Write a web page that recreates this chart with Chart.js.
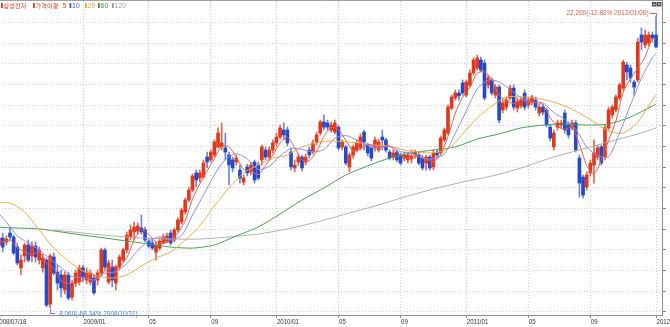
<!DOCTYPE html>
<html>
<head>
<meta charset="utf-8">
<script src="https://cdn.jsdelivr.net/npm/chart.js@4.4.1/dist/chart.umd.min.js"></script>
<style>
  html, body { margin: 0; padding: 0; background: #fff; overflow: hidden; }
  #frame { position: relative; width: 670px; height: 327px; overflow: hidden; background: #fff; }
  #wrap { position: absolute; left: -40px; top: 0; width: 740px; height: 327px; }
</style>
</head>
<body>
<div id="frame"><div id="wrap"><canvas id="c" width="740" height="327"></canvas></div></div>
<script>
// Weekly candles, 2008/07/18 .. 2012/01/06 (week index 0 .. 181)
const xTickWeeks  = [0, 24, 42, 59, 77, 94, 111, 129, 146, 163, 181];
const xTickLabels = ['2008/07/18', '2009/01', '05', '09', '2010/01', '05', '09', '2011/01', '05', '09', '2012/01'];

const opens = [11740,11110,11450,11260,11690,11500,11010,10000,10580,11110,10580,11060,10380,10000,10380,8250,10530,9800,9660,8930,
  9660,8590,9270,9320,10000,9410,9320,9510,9410,9750,10870,9320,10040,9270,10040,10380,10870,11500,11740,11790,
  11930,11840,11300,11210,10770,10960,11210,11300,11690,11350,11840,12220,12710,13290,13770,14600,14350,14400,15370,15230,
  15470,15860,15860,15810,15470,15230,15130,14740,14160,14890,14650,15130,14980,15230,15710,15370,15710,16050,16340,16680,
  16680,15610,14840,15130,15370,15130,15710,15610,16100,16530,17070,17020,16680,16580,16820,15860,15860,14890,15470,15710,
  15810,16580,15950,15810,15810,15710,16340,16200,15610,15370,15610,15470,15320,15230,15280,15470,15470,15320,15080,15370,
  14890,15610,15570,16200,16530,17740,18230,18470,18960,18370,18860,19440,19680,20070,19920,18860,19100,18370,18760,17650,
  17790,18230,18710,17740,17840,18470,17890,18040,18130,17500,17790,17650,16820,15860,16820,16920,17500,16920,16780,17020,
  15320,14400,13920,14600,14980,15370,15860,15370,16780,17410,17650,18230,18710,19830,19680,19000,19100,21280,20800,20890,
  21280,21280];
const highs = [11890,11590,11690,11550,11930,11590,11210,10630,11210,11350,11260,11260,11010,10670,10480,10670,10720,10140,9900,9800,
  9800,9410,9900,10140,10140,10000,9900,9660,9900,10960,10960,10380,10380,10140,10630,10960,11740,12080,12220,12180,
  12560,11980,11450,11350,11260,11450,11640,11690,11840,11930,12420,12900,13390,13920,14550,14740,14740,15230,15610,15710,
  16200,16780,17020,16530,15610,15370,15470,14980,14500,15030,15130,15230,15130,15950,15860,15860,16200,16530,16920,17020,
  16820,15810,15230,15520,15470,15520,15860,16200,16580,17160,17410,17160,17070,17160,16920,16200,15950,15570,15950,16200,
  16490,16680,16050,15900,16340,16240,16680,16290,15710,15710,15710,15570,15610,15610,15710,15710,15610,15470,15470,15470,
  15710,15710,16390,16780,17890,18370,18620,18620,19100,19100,19590,20170,20310,20210,20070,19340,19200,18860,18860,18130,
  18280,18860,18860,18230,18280,18620,18280,18370,18280,17940,17940,17740,16920,16680,17160,17160,17650,17070,17160,17160,
  15470,14500,14650,15230,16200,15950,15950,16920,17790,17890,18370,18960,20070,19970,19830,19100,21130,21620,21520,21430,
  21430,22200];
const lows = [11210,11010,10770,11110,11350,10630,10140,9660,10290,10290,10290,10290,10190,9800,8110,8060,9660,8930,8590,8740,
  8450,8450,9080,9170,9320,9220,9170,8690,9170,9610,9900,9220,9080,8930,9900,10290,10720,11350,11350,11640,
  11640,11260,10960,10870,10380,10870,11160,11210,11110,11260,11740,12130,12610,13190,13680,13920,14160,14350,14840,15130,
  15370,15810,15710,15230,14020,14650,14980,14110,14020,14450,14500,14110,14260,14980,15230,15230,15570,15900,16240,16200,
  15900,14740,14650,14940,14690,14980,15320,15520,15950,16440,16680,16680,16580,16490,15710,15710,14980,14650,15320,15610,
  15710,15710,15420,15180,15660,15610,15710,15610,15230,15230,15130,14980,15180,15080,15080,15320,14980,14740,14740,14740,
  14740,15320,15470,16100,16440,17650,18130,18130,18370,18280,18760,19340,19590,19490,18130,18710,18370,18230,17020,17500,
  17650,18130,17650,17550,17740,17650,17740,17890,17650,17360,17410,16820,16150,15710,16680,16780,16530,16290,16680,15610,
  13430,13390,13770,14450,14110,15230,14980,15230,16680,17260,17550,18130,18620,19100,19000,18370,19000,20550,20650,20750,
  20940,20650];
const closes = [11350,11450,11010,11400,11500,10720,10240,10380,11110,10380,11060,10530,10870,10480,8200,10580,9750,9270,9030,9660,
  8540,9270,9750,10000,9510,9800,9750,8790,9750,10870,10040,10240,9410,10040,10530,10870,11590,11840,11980,12030,
  11740,11350,11060,10960,11110,11300,11500,11550,11210,11840,12320,12800,13290,13770,14450,14260,14600,15080,15130,15610,
  16100,16530,16050,15610,14980,14840,15320,14350,14350,14600,14980,14260,14350,15860,15370,15710,16050,16340,16780,16440,
  16050,14890,14980,15370,14840,15370,15470,16050,16440,17070,16820,16820,16920,17020,15810,16100,15080,15470,15860,16050,
  16340,16100,15570,15320,16200,16100,16200,15710,15320,15570,15230,15080,15470,15470,15420,15610,15080,14840,15370,14840,
  15570,15470,16290,16680,17790,18280,18470,18330,18470,19000,19440,20070,20170,19590,18230,19200,18470,18760,17160,17990,
  18130,18710,17790,18040,18130,17790,18130,18280,17790,17790,17550,16920,16290,16530,17020,17020,16680,16440,17020,15710,
  14110,13530,14500,15080,15570,15810,15080,16780,17650,17790,18280,18860,19970,19490,19200,18760,20940,20940,21280,21280,
  21130,20700];

// Price moving averages (5/10/20/60/120 weeks), sampled every few weeks
const maPeriods = [5, 10, 20, 60, 120];
const ma5 = [11350,11260,11340,10970,10790,10640,10790,10230,9980,9370,9250,9250,9410,9760,9520,9840,10060,10050,10490,11360,
  11840,11630,11250,11190,11330,11680,12290,13330,14070,14700,15300,15890,15860,15360,14770,14720,14510,14960,15470,16050,
  16330,15830,15230,15210,15630,16370,16810,16680,16190,15660,15760,15980,15900,15880,15900,15600,15330,15330,15410,15260,
  15140,15510,16360,17500,18270,18740,19430,19500,19130,18360,18100,17960,18160,17980,18030,17910,17270,16860,16710,16830,
  15990,14970,14560,15210,16180,17120,18510,19160,19670,20220,21120,21070];
const ma10 = [12800,12220,11550,11210,10870,10430,10020,9570,9540,9410,9750,9820,10210,10860,11300,11500,11380,11570,12560,13520,
  14510,15250,15530,15280,14770,14920,15430,15780,15740,15620,15730,16280,16410,16200,15940,15810,15890,15630,15560,15310,
  15280,15520,16520,17600,18670,19100,19010,18640,18240,18020,18000,17520,17190,16720,15860,15440,15380,16540,17890,19190,
  20190,20370];
const ma20 = [13140,13140,12710,11840,10960,10340,9850,9610,9510,9660,10090,10480,10770,11350,12030,13000,13870,14600,14980,15320,
  15470,15860,16050,16150,16100,16050,15950,15900,15710,15610,15570,15760,16490,17260,17840,18280,18280,18230,18080,17840,
  17500,17070,16630,16530,17070,18130,18370];
const ma60 = [11980,11930,11890,11740,11590,11450,11300,11160,11010,10960,11110,11550,11980,12610,13290,13870,14500,14940,15320,15570,
  15710,15860,16240,16490,16780,16920,16970,16920,16970,17310,17840,17940];
const ma120 = [11840,11690,11550,11450,11400,11400,11500,11640,11890,12220,12610,13000,13430,13820,14160,14450,14840,15320,15710,16100,
  16490,16780];

const priceTicks = [7880,8880,9880,10880,11880,12880,13880,14880,15880,16880,17880,18880,19880,20880,21880];

const highNote = '(-12.80% 2012/01/06)';
const lowNote  = '(-68.34% 2008/10/31)';

const FONT  = "'Liberation Sans', Arial, sans-serif";
const KFONT = "'Noto Sans CJK KR', sans-serif";
const UP = '#e0381c', DOWN = '#2748c8';
const UP_WICK = '#e8644e', DOWN_WICK = '#6d86da';
const MA_COLORS = ['#ec5d4c', '#8f8ff0', '#f1ab45', '#46a24e', '#b0b0b0'];

const weeks = closes.map((_, i) => i);
const isUp = i => closes[i] >= opens[i];
const last = weeks.length - 1;

function sampled(values, step, start) {
  return values.map((v, k) => ({ x: Math.min(start + k * step, last), y: v }));
}
function maLine(values, step, start, idx) {
  return {
    type: 'line', data: sampled(values, step, start),
    borderColor: MA_COLORS[idx], borderWidth: 1, pointRadius: 0, tension: 0.25,
    order: idx
  };
}

// condensed text: the chart's small labels use a narrow face
function narrowText(ctx, text, x, y, align, sx) {
  ctx.save();
  ctx.translate(x, y);
  ctx.scale(sx, 1);
  ctx.textAlign = align;
  ctx.fillText(text, 0, 0);
  ctx.restore();
}

const decorations = {
  id: 'decorations',
  afterDatasetsDraw(chart) {
    const { ctx, chartArea: a, scales: { x, y } } = chart;
    const W = v => v + 40; // page x -> canvas x
    ctx.save();

    // frame line along the top edge
    ctx.strokeStyle = '#a0a0a0'; ctx.lineWidth = 1;
    ctx.beginPath(); ctx.moveTo(a.left, 0.5); ctx.lineTo(a.right + 1, 0.5); ctx.stroke();

    // small window buttons in the corner
    ctx.fillStyle = '#4a4a4a';
    ctx.fillRect(W(652), 2, 4.5, 4.5);
    ctx.fillRect(W(657), 2, 4.5, 4.5);
    ctx.fillStyle = '#ddd';
    ctx.fillRect(W(653.3), 3.6, 2, 1.6);
    ctx.strokeStyle = '#ddd'; ctx.lineWidth = 0.8;
    ctx.beginPath(); ctx.moveTo(W(658), 3); ctx.lineTo(W(660.5), 5.5); ctx.moveTo(W(660.5), 3); ctx.lineTo(W(658), 5.5); ctx.stroke();

    ctx.font = '7.5px ' + FONT; ctx.textBaseline = 'middle';

    // highest high
    const hi = highs.indexOf(Math.max(...highs));
    const hx = x.getPixelForValue(hi), hy = y.getPixelForValue(highs[hi]);
    ctx.strokeStyle = '#e8604c'; ctx.lineWidth = 1;
    ctx.beginPath(); ctx.moveTo(hx - 6, hy - 2.5); ctx.lineTo(hx + 0.5, hy - 2.5); ctx.lineTo(hx + 0.5, hy); ctx.stroke();
    ctx.fillStyle = '#e8604c';
    narrowText(ctx, highs[hi].toLocaleString('en-US') + highNote, hx - 7.5, hy - 3, 'right', 0.86);

    // lowest low
    const lo = lows.indexOf(Math.min(...lows));
    const lx = x.getPixelForValue(lo), ly = y.getPixelForValue(lows[lo]);
    ctx.strokeStyle = '#4a7fd6';
    ctx.beginPath(); ctx.moveTo(lx + 0.5, ly + 1); ctx.lineTo(lx + 0.5, ly + 5.5); ctx.lineTo(lx + 5, ly + 5.5); ctx.stroke();
    ctx.fillStyle = '#4a7fd6';
    narrowText(ctx, lows[lo].toLocaleString('en-US') + lowNote, lx + 9, ly + 5.5, 'left', 0.86);

    // date labels under the axis
    ctx.fillStyle = '#333';
    ctx.font = '8px ' + FONT;
    x.ticks.forEach((t, i) => {
      narrowText(ctx, xTickLabels[i], x.getPixelForValue(t.value) + 0.5, a.bottom + 7, 'left', 0.76);
    });

    // legend
    const items = [
      { sw: UP, text: '삼성전자', color: '#e0402c', x: 1, font: KFONT, size: 6.2, sx: 1 },
      { sw: UP, text: '가격이평', color: '#e0402c', x: 33, font: KFONT, size: 6.2, sx: 1 },
      { sw: null, text: String(maPeriods[0]), color: '#e0402c', x: 62.5, font: FONT, size: 8, sx: 0.85 },
      { sw: '#4058d8', text: String(maPeriods[1]), color: '#4058d8', x: 69.5, font: FONT, size: 8, sx: 0.85 },
      { sw: '#eaa030', text: String(maPeriods[2]), color: '#eaa030', x: 85, font: FONT, size: 8, sx: 0.85 },
      { sw: '#3a9a40', text: String(maPeriods[3]), color: '#3a9a40', x: 98, font: FONT, size: 8, sx: 0.85 },
      { sw: '#9a9a9a', text: String(maPeriods[4]), color: '#9a9a9a', x: 112, font: FONT, size: 8, sx: 0.85 }
    ];
    for (const it of items) {
      let tx = W(it.x);
      if (it.sw) { ctx.fillStyle = it.sw; ctx.fillRect(tx, 3, 1.8, 5); tx += 2.6; }
      ctx.fillStyle = it.color; ctx.font = it.size + 'px ' + it.font;
      narrowText(ctx, it.text, tx, 5.6, 'left', it.sx);
    }
    ctx.restore();
  }
};

new Chart(document.getElementById('c'), {
  type: 'bar',
  data: {
    datasets: [
      maLine(ma5, 2, 0, 0),
      maLine(ma10, 3, 0, 1),
      maLine(ma20, 4, 0, 2),
      maLine(ma60, 6, 0, 3),
      maLine(ma120, 8, 16, 4),
      {
        type: 'bar', order: 10, grouped: false, barThickness: 3,
        data: weeks.map(i => ({ x: i, y: [opens[i], closes[i]] })),
        backgroundColor: c => isUp(c.dataIndex) ? UP : DOWN
      },
      {
        type: 'bar', order: 11, grouped: false, barThickness: 1,
        data: weeks.map(i => ({ x: i, y: [lows[i], highs[i]] })),
        backgroundColor: c => isUp(c.dataIndex) ? UP_WICK : DOWN_WICK
      }
    ]
  },
  options: {
    responsive: false,
    devicePixelRatio: 1,
    animation: false,
    events: [],
    layout: { autoPadding: false, padding: { left: 30, right: 34, top: 1, bottom: 9 } },
    plugins: { legend: { display: false }, tooltip: { enabled: false } },
    scales: {
      x: {
        type: 'linear', min: -1.48, max: 182.63, offset: false,
        afterBuildTicks: s => { s.ticks = xTickWeeks.map(v => ({ value: v })); },
        ticks: { display: false },
        grid: { offset: false, color: '#d2d2d2', tickLength: 3, tickColor: '#8a8a8a', drawTicks: true },
        border: { display: true, color: '#8c8c8c', width: 1, dash: [1, 2] }
      },
      y: {
        type: 'linear', position: 'right', min: 7720, max: 22927,
        afterBuildTicks: s => { s.ticks = priceTicks.map(v => ({ value: v })); },
        ticks: { display: false },
        grid: { color: '#d2d2d2', tickLength: 4, tickColor: '#8a8a8a', drawTicks: true },
        border: { display: true, color: '#8c8c8c', width: 1, dash: [1, 2] }
      }
    }
  },
  plugins: [decorations]
});
</script>
</body>
</html>
